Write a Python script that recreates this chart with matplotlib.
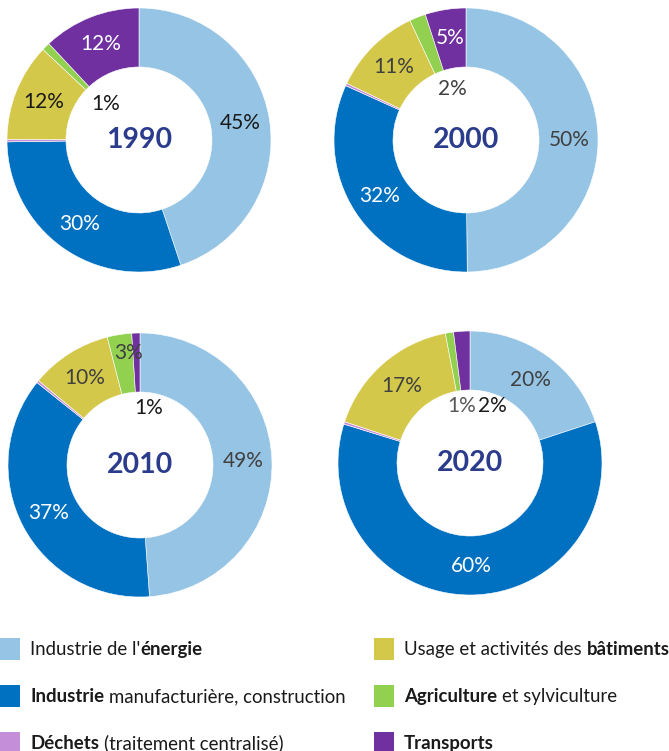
import numpy as np
import matplotlib.pyplot as plt
from matplotlib.patches import Rectangle

W, H = 669, 751

plt.rcParams['font.family'] = ['Lato', 'DejaVu Sans']

years = ["1990", "2000", "2010", "2020"]
sectors = ["energie", "industrie", "dechets", "batiments", "agriculture", "transports"]
colors = ["#95C4E4", "#0070C0", "#C48ED8", "#D4C84A", "#92D050", "#7030A0"]

# shares (%) per sector, same order as sectors
v1990 = [45, 30, 0.3, 12, 1, 12]
v2000 = [50, 32, 0.3, 11, 2, 5]
v2010 = [49, 37, 0.3, 10, 3, 1]
v2020 = [20, 60, 0.3, 17, 1, 2]
values = [v1990, v2000, v2010, v2020]

# label text colours (None = no label)
lab1990 = ["#1a1a1a", "white", None, "#1a1a1a", "#1a1a1a", "white"]
lab2000 = ["#404040", "white", None, "#404040", "#404040", "white"]
lab2010 = ["#404040", "white", None, "#404040", "#404040", "#1a1a1a"]
lab2020 = ["#404040", "white", None, "#404040", "#595959", "#1a1a1a"]
label_cols = [lab1990, lab2000, lab2010, lab2020]

# labels moved into the hole (offset from the centre, px, y down)
moved = {
    (0, 4): (-33, -36),
    (1, 4): (-14, -51),
    (2, 4): (-11, -112),
    (2, 5): (9, -57),
    (3, 4): (-8, -57),
    (3, 5): (22, -57),
}

centres = [(139, 140), (466, 140), (140, 465), (470, 463)]
R = 132
ring = 59
lab_r = 103

legend_parts = [
    [("Industrie de l'", False), ("énergie", True)],
    [("Industrie", True), ("manufacturière, construction", False)],
    [("Déchets", True), ("(traitement centralisé)", False)],
    [("Usage et activités des", False), ("bâtiments", True)],
    [("Agriculture", True), ("et sylviculture", False)],
    [("Transports", True)],
]

fig = plt.figure(figsize=(W / 100, H / 100), dpi=100)
ax = fig.add_axes([0, 0, 1, 1])

for i, yr in enumerate(years):
    cx, cy = centres[i]
    wedges, _ = ax.pie(values[i], colors=colors, center=(cx, H - cy), radius=R,
                       startangle=90, counterclock=False, frame=True,
                       wedgeprops=dict(width=ring, edgecolor='white', linewidth=0.4))
    for j, w in enumerate(wedges):
        col = label_cols[i][j]
        if col is None:
            continue
        txt = f"{round(values[i][j])}%"
        if (i, j) in moved:
            dx, dy = moved[(i, j)]
            x, y = cx + dx, H - cy - dy
        else:
            a = np.deg2rad((w.theta1 + w.theta2) / 2)
            x, y = cx + lab_r * np.cos(a), H - cy + lab_r * np.sin(a)
        ax.text(x, y, txt, ha='center', va='center', fontsize=15, color=col)
    ax.text(cx, H - cy, yr, ha='center', va='center', fontsize=20.5,
            fontweight='bold', color='#2B3C8C')

# legend
rows = [649, 696, 743]
cols_x = [0, 374]
for k, parts in enumerate(legend_parts):
    lx = cols_x[k // 3]
    ly = H - rows[k % 3]
    ax.add_patch(Rectangle((lx, ly - 11), 20, 22, color=colors[k], lw=0))
    base = ly - 6
    prev = None
    for text, bold in parts:
        fw = 'bold' if bold else 'normal'
        if prev is None:
            prev = ax.text(lx + 30, base, text, ha='left', va='baseline',
                           fontsize=13.4, fontweight=fw, color='#1a1a1a')
        else:
            gap = 0 if prev.get_text().endswith("'") else 3.5
            prev = ax.annotate(text, xy=(1, base), xycoords=(prev, 'data'),
                               xytext=(gap, 0), textcoords='offset points',
                               ha='left', va='baseline', fontsize=13.4,
                               fontweight=fw, color='#1a1a1a')

ax.set_xlim(0, W)
ax.set_ylim(0, H)
ax.set_aspect('equal')
ax.axis('off')

fig.savefig("out.png", dpi=100)
